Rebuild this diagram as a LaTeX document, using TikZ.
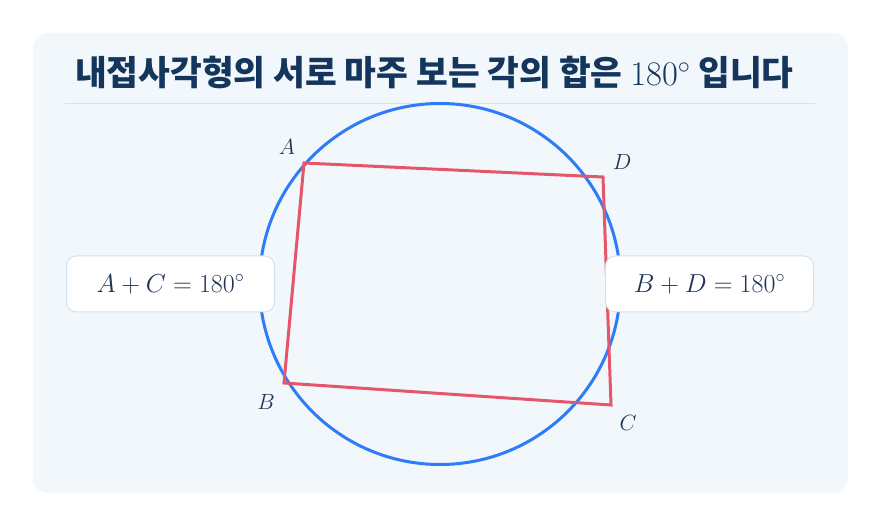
\documentclass[tikz,border=0pt]{standalone}
\usepackage{fix-cm}
\usepackage{fontspec}
\newfontfamily\kr{Noto Sans CJK KR}
\definecolor{panel}{HTML}{F2F7FC}
\definecolor{navy}{HTML}{14355C}
\definecolor{txt}{HTML}{1E3556}
\definecolor{sep}{HTML}{D8E2EE}
\definecolor{boxline}{HTML}{D5E1EE}
\definecolor{circblue}{HTML}{2F7DF6}
\definecolor{quadred}{HTML}{E5566A}
\tikzset{
  sumbox/.style={draw=boxline, line width=1pt, fill=white, rounded corners=10pt,
    minimum width=208pt, minimum height=56pt, text=txt, font=\fontsize{26}{30}\selectfont},
  vlabel/.style={text=txt, font=\fontsize{22}{26}\selectfont, inner sep=0pt},
}
\begin{document}
\begin{tikzpicture}[x=1pt,y=-1pt]
\useasboundingbox (0,0) rectangle (881,526);
\fill[white] (0,0) rectangle (881,526);
\fill[panel, rounded corners=15pt] (33,33) rectangle (848,493);
\node[anchor=base west, text=navy, inner sep=0pt, font=\kr\bfseries\fontsize{34.5}{40}\selectfont] (title) at (75,86)
  {내접사각형의 서로 마주 보는 각의 합은 $180^\circ$ 입니다};
\coordinate (s1) at (65,104);
\coordinate (s2) at (815,104);
\draw[sep, line width=1pt] (s1) -- (s2);
\coordinate (O) at (440,284);
\draw[circblue, line width=3pt] (O) circle[radius=180.5pt];
\coordinate (A) at (304,163);
\coordinate (D) at (603,177);
\coordinate (C) at (611,405);
\coordinate (B) at (284,383);
\draw[quadred, line width=3pt, line join=miter] (A) -- (D) -- (C) -- (B) -- cycle;
\node[vlabel] (lA) at (287,147) {$A$};
\node[vlabel] (lD) at (622,162) {$D$};
\node[vlabel] (lB) at (266,402) {$B$};
\node[vlabel] (lC) at (628,423) {$C$};
\node[sumbox] (ac) at (170.5,284) {$A+C=180^\circ$};
\node[sumbox] (bd) at (709.5,284) {$B+D=180^\circ$};
\end{tikzpicture}
\end{document}
